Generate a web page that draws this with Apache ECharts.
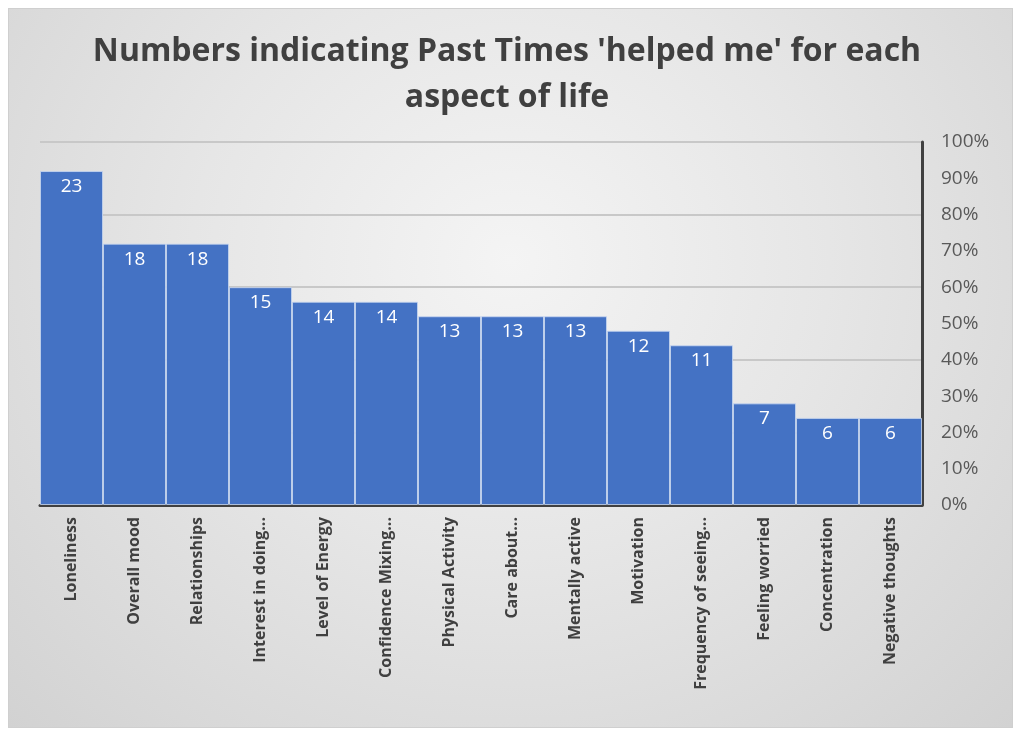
<!DOCTYPE html>
<html>
<head>
<meta charset="utf-8">
<script src="https://cdn.jsdelivr.net/npm/echarts@6/dist/echarts.min.js"></script>
<style>
  html, body { margin: 0; padding: 0; background: #fff; }
  #frame {
    position: absolute; left: 8px; top: 8px; width: 1003px; height: 718px;
    border: 1px solid #cfcfcf;
    background: radial-gradient(ellipse at 50% 35%, #f4f4f4 0%, #e6e6e6 45%, #d2d2d2 100%);
  }
  #chart { position: absolute; left: 0; top: 0; width: 1014px; height: 729px; }
</style>
</head>
<body>
<div id="frame"></div>
<div id="chart"></div>
<script>
// counts of "helped me" per aspect (max possible = 25 people)
var categories = ['Loneliness', 'Overall mood', 'Relationships', 'Interest in doing...',
  'Level of Energy', 'Confidence Mixing...', 'Physical Activity', 'Care about...',
  'Mentally active', 'Motivation', 'Frequency of seeing...', 'Feeling worried',
  'Concentration', 'Negative thoughts'];
var counts = [23, 18, 18, 15, 14, 14, 13, 13, 13, 12, 11, 7, 6, 6];
var total = 25;

var chart = echarts.init(document.getElementById('chart'));

var option = {
  backgroundColor: 'transparent',
  animation: false,
  title: {
    text: "Numbers indicating Past Times 'helped me' for each\naspect of life",
    left: 'center',
    top: 24,
    padding: [5, 0, 5, 16],
    textStyle: {
      fontFamily: 'Open Sans',
      fontSize: 32,
      fontWeight: 'bold',
      color: '#404040',
      lineHeight: 46
    }
  },
  grid: { left: 40, right: 92, top: 142, bottom: 224 },
  xAxis: {
    type: 'category',
    data: categories,
    axisLine: { lineStyle: { color: '#404040', width: 3 } },
    axisTick: { show: false },
    axisLabel: {
      rotate: 90,
      margin: 12,
      interval: 0,
      fontFamily: 'Open Sans',
      fontSize: 16,
      fontWeight: 'bold',
      color: '#404040'
    }
  },
  yAxis: [{
    type: 'value',
    position: 'right',
    min: 0,
    max: total,
    interval: total / 10,
    axisLine: { show: true, lineStyle: { color: '#404040', width: 3 } },
    axisTick: { show: false },
    splitLine: { show: false },
    axisLabel: {
      margin: 19,
      fontFamily: 'Open Sans',
      fontSize: 19,
      color: '#595959',
      formatter: function (v) { return Math.round(v / total * 100) + '%'; }
    }
  }, {
    type: 'value',
    position: 'left',
    min: 0,
    max: total,
    interval: total / 5,
    axisLine: { show: false },
    axisTick: { show: false },
    axisLabel: { show: false },
    splitLine: { lineStyle: { color: '#c8c8c8', width: 2 } }
  }],
  series: [{
    type: 'bar',
    yAxisIndex: 0,
    data: counts,
    barCategoryGap: 0,
    itemStyle: {
      color: '#4472C4',
      borderColor: 'rgba(200,215,240,0.8)',
      borderWidth: 1
    },
    label: {
      show: true,
      position: 'insideTop',
      distance: 6,
      fontFamily: 'Open Sans',
      fontSize: 19,
      color: '#ffffff'
    }
  }]
};

chart.setOption(option);
</script>
</body>
</html>
